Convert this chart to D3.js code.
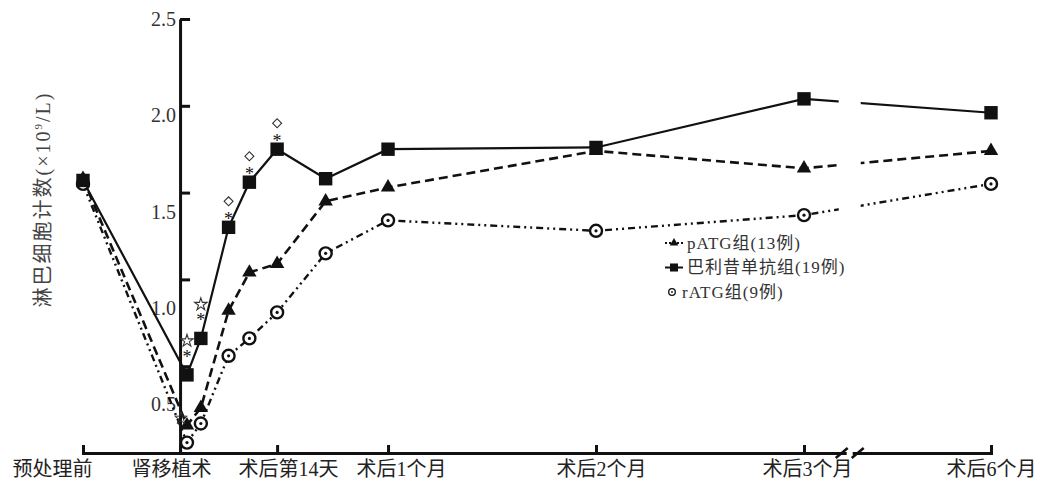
<!DOCTYPE html>
<html>
	<head>
		<meta charset="utf-8" />
		<title>淋巴细胞计数</title>
		<style>
			body,
			html {
				margin: 0;
				padding: 0;
				background: #fff;
			}
			text {
				font-family: 'Liberation Serif', 'Noto Sans CJK SC', serif;
			}
		</style>
	</head>
	<body>
		<svg id="svg" width="1041" height="487"></svg>

		<script src="https://d3js.org/d3.v7.min.js"></script>
		<script>
			// time points in days relative to transplant (pre-treatment = -14)
			const days = [-14, 1, 3, 7, 10, 14, 21, 30, 60, 90, 180];
			const basiliximab = [1.57, 0.45, 0.66, 1.3, 1.56, 1.75, 1.58, 1.75, 1.76, 2.04, 1.96];
			const pATG = [1.58, 0.16, 0.26, 0.82, 1.04, 1.09, 1.45, 1.53, 1.74, 1.64, 1.74];
			const rATG = [1.55, 0.06, 0.17, 0.56, 0.66, 0.81, 1.15, 1.34, 1.28, 1.37, 1.55];

			const tickDays = [-14, 0, 14, 30, 60, 90, 180];
			const tickLabels = ['预处理前', '肾移植术', '术后第14天', '术后1个月', '术后2个月', '术后3个月', '术后6个月'];
			const yTicks = [0.5, 1.0, 1.5, 2.0, 2.5];

			const legendLabels = ['pATG组(13例)', '巴利昔单抗组(19例)', 'rATG组(9例)'];

			// significance marks above the basiliximab / pATG points
			const marks = [
				{ series: 'bas', day: 1, sym: 'star' },
				{ series: 'bas', day: 3, sym: 'star' },
				{ series: 'bas', day: 7, sym: 'diamond' },
				{ series: 'bas', day: 10, sym: 'diamond' },
				{ series: 'bas', day: 14, sym: 'diamond' },
				{ series: 'pATG', day: 1, sym: 'star' }
			];

			const svg = d3.select('#svg');
			const ink = '#111';

			// x scale is linear in days, with a broken segment between 3 and 6 months
			const x = d3.scaleLinear().domain([-14, 90, 180]).range([83, 804, 991]);
			const y = d3.scaleLinear().domain([0, 2.5]).range([453, 19]);
			const breakDay = 112;

			// label nudges so the long labels don't crowd each other
			const labelShift = [-31, -9, 11, 13, 5, 3, 0];

			// y axis (ticks point inward)
			const yAxis = svg
				.append('g')
				.attr('transform', `translate(${x(0)},0)`)
				.call(d3.axisLeft(y).tickValues(yTicks).tickFormat(d3.format('.1f')).tickSizeInner(-10).tickSizeOuter(0).tickPadding(4));
			yAxis.select('.domain').attr('stroke', ink).attr('stroke-width', 3);
			yAxis.selectAll('.tick line').attr('stroke', ink).attr('stroke-width', 3);
			yAxis
				.selectAll('.tick text')
				.attr('fill', '#333')
				.attr('font-size', 20)
				.attr('transform', (d) => `translate(0,${(y(d) - y(2.5)) * 0.11})`);

			// x axis
			const xAxis = svg
				.append('g')
				.attr('transform', `translate(0,${y(0)})`)
				.call(
					d3
						.axisBottom(x)
						.tickValues(tickDays)
						.tickFormat((d, i) => tickLabels[i])
						.tickSizeInner(-8)
						.tickSizeOuter(-8)
						.tickPadding(9)
				);
			xAxis.select('.domain').attr('stroke', ink).attr('stroke-width', 3);
			xAxis.selectAll('.tick line').attr('stroke', ink).attr('stroke-width', 3);
			xAxis
				.selectAll('.tick text')
				.attr('fill', '#222')
				.attr('font-size', 20)
				.attr('dx', (d, i) => labelShift[i]);

			// y title
			const title = svg
				.append('text')
				.attr('transform', `translate(50,${y(1.46)}) rotate(-90)`)
				.attr('text-anchor', 'middle')
				.attr('fill', '#444')
				.attr('font-size', 20)
				.attr('letter-spacing', 2);
			title.append('tspan').text('淋巴细胞计数(×10');
			title.append('tspan').attr('font-size', 11).attr('dy', -8).text('9');
			title.append('tspan').attr('dy', 8).text('/L)');

			const series = [
				{ key: 'bas', values: basiliximab, dash: null, width: 2.2, shape: 'square' },
				{ key: 'pATG', values: pATG, dash: '9,5', width: 2.6, shape: 'triangle' },
				{ key: 'rATG', values: rATG, dash: '7,4,2,4,2,4', width: 2.4, shape: 'circle' }
			];

			const line = d3
				.line()
				.x((d) => x(d[0]))
				.y((d) => y(d[1]));

			series.forEach((s) => {
				svg
					.append('path')
					.attr('d', line(days.map((d, i) => [d, s.values[i]])))
					.attr('fill', 'none')
					.attr('stroke', ink)
					.attr('stroke-width', s.width)
					.attr('stroke-dasharray', s.dash);
			});

			// axis break: gap in the lines and the axis, with two slashes
			const bx = x(breakDay);
			svg.append('rect').attr('x', bx - 11).attr('y', 0).attr('width', 22).attr('height', y(0) - 6).attr('fill', '#fff');
			svg.append('rect').attr('x', bx - 3).attr('y', y(0) - 3).attr('width', 6).attr('height', 6).attr('fill', '#fff');
			[-8, 8].forEach((o) => {
				svg
					.append('line')
					.attr('x1', bx + o - 6)
					.attr('y1', y(0) + 5)
					.attr('x2', bx + o + 6)
					.attr('y2', y(0) - 5)
					.attr('stroke', ink)
					.attr('stroke-width', 2.5);
			});

			function drawMarker(g, shape, cx, cy, scale) {
				if (shape === 'circle') {
					g.append('circle')
						.attr('cx', cx)
						.attr('cy', cy)
						.attr('r', 6 * scale)
						.attr('fill', '#fff')
						.attr('stroke', ink)
						.attr('stroke-width', 2.4 * scale);
					g.append('circle')
						.attr('cx', cx)
						.attr('cy', cy)
						.attr('r', 1.6 * scale)
						.attr('fill', ink);
				} else {
					const type = shape === 'square' ? d3.symbolSquare : d3.symbolTriangle;
					const size = shape === 'square' ? 180 : 90;
					g.append('path')
						.attr('d', d3.symbol().type(type).size(size * scale * scale)())
						.attr('transform', `translate(${cx},${cy})`)
						.attr('fill', ink);
				}
			}

			// markers: draw rATG first, basiliximab last so the squares sit on top
			[series[2], series[0], series[1]].forEach((s) => {
				const g = svg.append('g');
				days.forEach((d, i) => drawMarker(g, s.shape, x(d), y(s.values[i]), 1));
			});

			// significance marks: open star / open diamond, with an asterisk under them
			const byKey = { bas: basiliximab, pATG: pATG };
			const openStar = d3.symbol().type(d3.symbolStar).size(48)();
			const openDiamond = d3.symbol().type(d3.symbolSquare).size(40)();
			marks.forEach((m) => {
				const i = days.indexOf(m.day);
				const cx = x(m.day);
				const cy = y(byKey[m.series][i]);
				if (m.series === 'pATG') {
					svg.append('path')
						.attr('d', openStar)
						.attr('transform', `translate(${cx - 6},${cy - 7})`)
						.attr('fill', 'none')
						.attr('stroke', '#333')
						.attr('stroke-width', 1);
					return;
				}
				const isStar = m.sym === 'star';
				svg.append('path')
					.attr('d', isStar ? openStar : openDiamond)
					.attr('transform', `translate(${cx},${cy - (isStar ? 34 : 26)})${isStar ? '' : ' rotate(45)'}`)
					.attr('fill', 'none')
					.attr('stroke', '#333')
					.attr('stroke-width', 1.1);
				svg.append('text')
					.attr('x', cx)
					.attr('y', cy - (isStar ? 12 : 2))
					.attr('text-anchor', 'middle')
					.attr('font-size', 18)
					.attr('fill', ink)
					.text('*');
			});

			// legend
			const legend = svg.append('g').attr('transform', 'translate(665,243)');
			legendLabels.forEach((label, i) => {
				const s = [series[1], series[0], series[2]][i];
				const row = legend.append('g').attr('transform', `translate(0,${i * 24.5})`);
				if (s.shape !== 'circle') {
					row.append('line')
						.attr('x1', 0)
						.attr('x2', 18)
						.attr('stroke', ink)
						.attr('stroke-width', 2)
						.attr('stroke-dasharray', s.shape === 'triangle' ? '2,2' : null);
				}
				drawMarker(row, s.shape, s.shape === 'circle' ? 7 : 9, 0, s.shape === 'circle' ? 0.55 : 0.6);
				row.append('text')
					.attr('x', s.shape === 'circle' ? 17 : 22)
					.attr('dy', '0.35em')
					.attr('font-size', 17)
					.attr('letter-spacing', 1)
					.attr('fill', '#333')
					.text(label);
			});
		</script>
	</body>
</html>
